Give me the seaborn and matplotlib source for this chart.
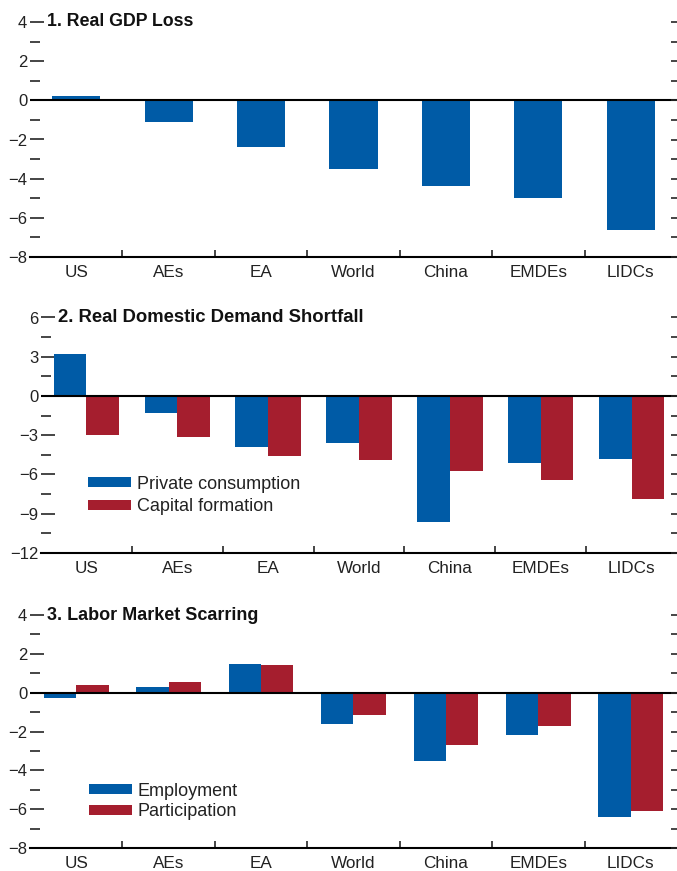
import matplotlib
matplotlib.use("Agg")
import matplotlib.pyplot as plt
import matplotlib.transforms as mtransforms
from matplotlib.ticker import MultipleLocator, FixedLocator
import numpy as np
import pandas as pd
import seaborn as sns

# --- data ---
regions = ["US", "AEs", "EA", "World", "China", "EMDEs", "LIDCs"]

gdp_loss = [0.2, -1.1, -2.4, -3.5, -4.35, -5.0, -6.6]

private_consumption = [3.2, -1.3, -3.9, -3.6, -9.6, -5.1, -4.8]
capital_formation = [-3.0, -3.1, -4.6, -4.9, -5.7, -6.4, -7.9]

employment = [-0.3, 0.3, 1.5, -1.6, -3.5, -2.2, -6.4]
participation = [0.4, 0.55, 1.4, -1.15, -2.7, -1.7, -6.1]

BLUE = "#005BA6"
RED = "#A51E2E"
TXT = "#222222"

sns.set_style("ticks")
plt.rcParams["font.family"] = ["Liberation Sans", "DejaVu Sans"]

fig = plt.figure(figsize=(6.77, 8.71), dpi=100)
ax1 = fig.add_axes([30 / 677, 1 - 257 / 871, 647 / 677, 235 / 871])
ax2 = fig.add_axes([41 / 677, 1 - 553 / 871, 636 / 677, 235.5 / 871])
ax3 = fig.add_axes([30 / 677, 1 - 848 / 871, 647 / 677, 233 / 871])


def style(ax, title, ylim, major, minor, title_size):
    ax.set_xlim(-0.5, 6.5)
    ax.set_ylim(*ylim)
    ax.axhline(0, color="black", lw=1.5, zorder=3)
    for s in ["left", "right", "top"]:
        ax.spines[s].set_visible(False)
    ax.spines["bottom"].set_color("black")
    ax.spines["bottom"].set_linewidth(1.5)

    ax.yaxis.set_major_locator(MultipleLocator(major))
    ax.yaxis.set_minor_locator(MultipleLocator(minor))
    ax.tick_params(axis="y", which="major", left=True, direction="in", length=10,
                   width=1.2, pad=2, labelsize=12, labelcolor=TXT)
    ax.tick_params(axis="y", which="minor", left=True, direction="in", length=7, width=1.2)

    ax.set_xticks(range(len(regions)))
    ax.set_xticklabels(regions)
    ax.xaxis.set_minor_locator(FixedLocator(np.arange(0.5, len(regions) - 1, 1)))
    ax.tick_params(axis="x", which="major", length=0, pad=6, labelsize=12.3, labelcolor=TXT)
    ax.tick_params(axis="x", which="minor", bottom=True, direction="in", length=5, width=1.2)
    ax.set_xlabel("")
    ax.set_ylabel("")

    # right side: short ticks, no labels
    right = ax.twinx()
    right.set_ylim(*ylim)
    right.yaxis.set_major_locator(MultipleLocator(minor))
    right.tick_params(axis="y", right=True, direction="in", length=4, width=1.2,
                      labelright=False)
    for s in right.spines.values():
        s.set_visible(False)

    tr = mtransforms.blended_transform_factory(ax.transAxes, ax.transData)
    ax.text(0.027, ylim[1], title, transform=tr, va="center", ha="left",
            fontsize=title_size, fontweight="bold", color="#111111")


def legend(ax, x, y, spacing):
    handles, labels = ax.get_legend_handles_labels()
    ax.legend(handles, labels, loc="upper left", bbox_to_anchor=(x, y), frameon=False,
              handlelength=2.4, handleheight=0.45, handletextpad=0.3, labelspacing=spacing,
              borderpad=0, borderaxespad=0, fontsize=13, labelcolor=TXT)


# 1. Real GDP loss
sns.barplot(x=regions, y=gdp_loss, color=BLUE, width=0.52, saturation=1,
            linewidth=0, ax=ax1)
style(ax1, "1. Real GDP Loss", (-8, 4), 2, 1, 12.8)

# 2. Real domestic demand shortfall
df2 = pd.DataFrame({
    "region": regions * 2,
    "value": private_consumption + capital_formation,
    "series": ["Private consumption"] * len(regions) + ["Capital formation"] * len(regions),
})
sns.barplot(data=df2, x="region", y="value", hue="series", order=regions,
            palette=[BLUE, RED], width=0.72, saturation=1, linewidth=0,
            errorbar=None, ax=ax2)
style(ax2, "2. Real Domestic Demand Shortfall", (-12, 6), 3, 1.5, 13.3)
legend(ax2, 0.074, 0.328, 0.3)

# 3. Labor market scarring
df3 = pd.DataFrame({
    "region": regions * 2,
    "value": employment + participation,
    "series": ["Employment"] * len(regions) + ["Participation"] * len(regions),
})
sns.barplot(data=df3, x="region", y="value", hue="series", order=regions,
            palette=[BLUE, RED], width=0.70, saturation=1, linewidth=0,
            errorbar=None, ax=ax3)
style(ax3, "3. Labor Market Scarring", (-8, 4), 2, 1, 13.0)
legend(ax3, 0.091, 0.28, 0.2)

fig.savefig("out.png", dpi=100)
plt.close(fig)
